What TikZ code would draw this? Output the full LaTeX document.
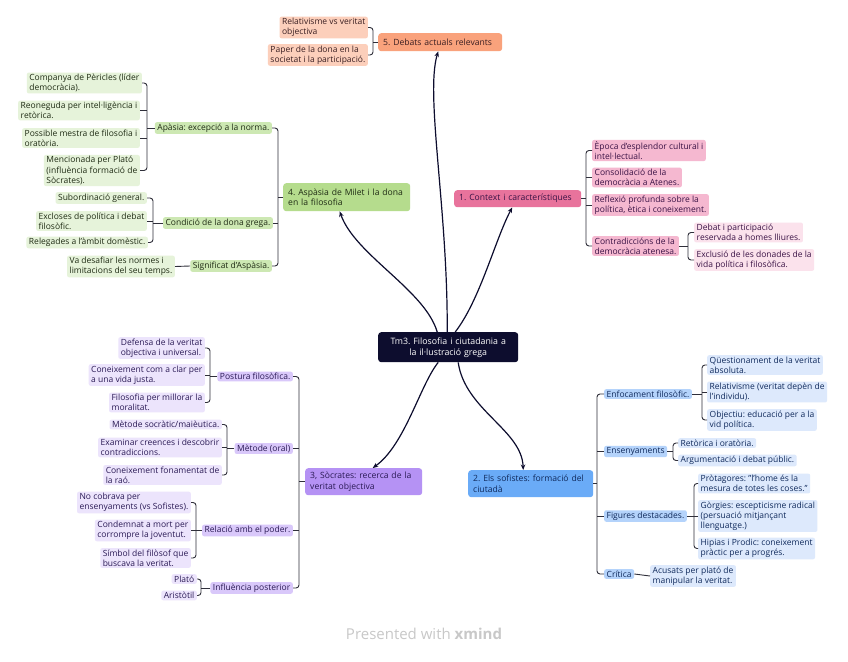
\documentclass[tikz,border=0pt]{standalone}
\usepackage{fontspec}
\setmainfont{Open Sans}
\usetikzlibrary{arrows.meta}
\frenchspacing
\definecolor{navy}{HTML}{0D0D2E}
\definecolor{brc}{HTML}{2F2F3A}
\definecolor{gM}{HTML}{B5DC8D}\definecolor{gS}{HTML}{CDE8B3}\definecolor{gL}{HTML}{E6F3DA}\definecolor{gT}{HTML}{1F2B14}
\definecolor{pM}{HTML}{E8739C}\definecolor{pS}{HTML}{F5B8D0}\definecolor{pL}{HTML}{FBE2EC}\definecolor{pT}{HTML}{3A1245}
\definecolor{oM}{HTML}{F9A27C}\definecolor{oS}{HTML}{FCCFBB}\definecolor{oT}{HTML}{3A1F22}
\definecolor{sM}{HTML}{B592F4}\definecolor{sS}{HTML}{D9C8FA}\definecolor{sL}{HTML}{ECE4FC}\definecolor{sT}{HTML}{2A1A55}
\definecolor{bM}{HTML}{6AABF7}\definecolor{bS}{HTML}{B4D3FB}\definecolor{bL}{HTML}{DDE9FC}\definecolor{bT}{HTML}{102A5C}
\definecolor{wm}{HTML}{C8C8C8}
\newcommand\bracketL[3]{\draw[br] (#2.east) -| (#1,0 |- #3.east) -- (#3.east);}
\newcommand\tickL[2]{\draw[br] (#2.east) -- (#1,0 |- #2.east);}
\newcommand\parL[2]{\draw[br] (#2.west) -- (#1,0 |- #2.west);}
\newcommand\bracketR[3]{\draw[br] (#2.west) -| (#1,0 |- #3.west) -- (#3.west);}
\newcommand\tickR[2]{\draw[br] (#2.west) -- (#1,0 |- #2.west);}
\newcommand\parR[2]{\draw[br] (#2.east) -- (#1,0 |- #2.east);}
\tikzset{
  box/.style={rounded corners=2pt, inner xsep=2.5pt, inner ysep=1.5pt, align=left, font=\fontsize{8.5}{10.1}\selectfont},
  mainbox/.style={rounded corners=3pt, inner xsep=5pt, inner ysep=2.5pt, align=left, font=\fontsize{8.6}{10.4}\selectfont, anchor=north west},
  gsub/.style={box, fill=gS, text=gT}, gleaf/.style={box, fill=gL, text=gT},
  psub/.style={box, fill=pS, text=pT}, pleaf/.style={box, fill=pL, text=pT},
  osub/.style={box, fill=oS, text=oT},
  ssub/.style={box, fill=sS, text=sT}, sleaf/.style={box, fill=sL, text=sT},
  bsub/.style={box, fill=bS, text=bT}, bleaf/.style={box, fill=bL, text=bT},
  br/.style={draw=brc, line width=0.9pt, rounded corners=3pt},
  arr/.style={draw=navy, line width=1.2pt, -{Stealth[length=5.5pt,width=4.5pt]}},
}
\begin{document}
\begin{tikzpicture}[x=1pt,y=-1pt]
\useasboundingbox (0,0) rectangle (848,661);
\fill[white] (0,0) rectangle (848,661);
% central
\node[mainbox, fill=navy, text=white, text width=130pt, align=center, minimum height=30pt, font=\fontsize{8.8}{11}\selectfont] (c) at (378,332) {Tm3. Filosofia i ciutadania a\\la il·lustració grega};
% main nodes
\node[mainbox, fill=oM, text=oT, text width=114pt, minimum height=18pt] (n5) at (378,33) {5. Debats actuals relevants};
\node[mainbox, fill=gM, text=gT, text width=117pt, minimum height=28pt] (n4) at (283,183) {4. Aspàsia de Milet i la dona\\en la filosofia};
\node[mainbox, fill=pM, text=pT, text width=117pt, minimum height=17pt] (n1) at (454,190) {1. Context i característiques};
\node[mainbox, fill=sM, text=sT, text width=107pt, minimum height=27pt] (n3) at (305,468) {3, Sòcrates: recerca de la\\veritat objectiva};
\node[mainbox, fill=bM, text=bT, text width=115pt, minimum height=27pt] (n2) at (468,470) {2. Els sofistes: formació del\\ciutadà};
% curved connectors
\draw[arr] ([xshift=-1pt]c.north) .. controls (448,210) and (425,95) .. ([xshift=-2pt]n5.south);
\draw[arr] ([xshift=-11pt]c.north) .. controls (425,290) and (355,255) .. ([xshift=-7pt]n4.south);
\draw[arr] ([xshift=7pt]c.north) .. controls (480,300) and (495,240) .. ([xshift=-5.5pt]n1.south);
\draw[arr] ([xshift=-10pt]c.south) .. controls (420,385) and (405,445) .. ([xshift=9pt]n3.north);
\draw[arr] ([xshift=10pt]c.south) .. controls (465,410) and (522,430) .. ([xshift=-7.5pt]n2.north);
% ===== orange
\node[osub, anchor=east] (o1) at (368,27.5) {Relativisme vs veritat\\objectiva};
\node[osub, anchor=east] (o2) at (368,55) {Paper de la dona en la\\societat i la participació.};
\bracketL{373}{o1}{o2}\parL{373}{n5}
% ===== green
\node[gsub, anchor=east] (gA) at (272,128) {Apàsia: excepció a la norma.};
\node[gsub, anchor=east] (gB) at (273,223) {Condició de la dona grega.};
\node[gsub, anchor=east] (gC) at (272,266) {Significat d'Aspàsia.};
\bracketL{278}{gA}{gC}\tickL{278}{gB}\parL{278}{n4}
\node[gleaf, anchor=east] (g1) at (142,83) {Companya de Pèricles (líder\\democràcia).};
\node[gleaf, anchor=east] (g2) at (140,110.5) {Reoneguda per intel·ligència i\\retòrica.};
\node[gleaf, anchor=east] (g3) at (140,138) {Possible mestra de filosofia i\\oratòria.};
\node[gleaf, anchor=east] (g4) at (140,170.5) {Mencionada per Plató\\(influència formació de\\Sòcrates).};
\bracketL{147}{g1}{g4}\tickL{147}{g2}\tickL{147}{g3}\parL{147}{gA}
\node[gleaf, anchor=east] (g5) at (147,198) {Subordinació general.};
\node[gleaf, anchor=east] (g6) at (147,221) {Excloses de política i debat\\filosòfic.};
\node[gleaf, anchor=east] (g7) at (148,242.5) {Relegades a l'àmbit domèstic.};
\bracketL{153}{g5}{g7}\tickL{153}{g6}\parL{153}{gB}
\node[gleaf, anchor=east] (g8) at (175,266.5) {Va desafiar les normes i\\limitacions del seu temps.};
\draw[br] (gC.west) -- (g8.east);
% ===== pink
\node[psub, anchor=west] (p1) at (592,150.5) {Època d'esplendor cultural i\\intel·lectual.};
\node[psub, anchor=west] (p2) at (592,177.5) {Consolidació de la\\democràcia a Atenes.};
\node[psub, anchor=west] (p3) at (592,205) {Reflexió profunda sobre la\\política, ètica i coneixement.};
\node[psub, anchor=west] (p4) at (592,246) {Contradiccións de la\\democràcia atenesa.};
\bracketR{586}{p1}{p4}\tickR{586}{p2}\tickR{586}{p3}\parR{586}{n1}
\node[pleaf, anchor=west] (p5) at (694,232.5) {Debat i participació\\reservada a homes lliures.};
\node[pleaf, anchor=west] (p6) at (694,260) {Exclusió de les donades de la\\vida política i filosòfica.};
\bracketR{688}{p5}{p6}\parR{688}{p4}
% ===== blue
\node[bsub, anchor=west] (b1) at (604,394) {Enfocament filosòfic.};
\node[bsub, anchor=west] (b2) at (604,451.5) {Ensenyaments};
\node[bsub, anchor=west] (b3) at (604,516) {Figures destacades.};
\node[bsub, anchor=west] (b4) at (604,574) {Crítica};
\bracketR{597}{b1}{b4}\tickR{597}{b2}\tickR{597}{b3}\parR{597}{n2}
\node[bleaf, anchor=west] (b11) at (707,365) {Qüestionament de la veritat\\absoluta.};
\node[bleaf, anchor=west] (b12) at (707,392) {Relativisme (veritat depèn de\\l'individu).};
\node[bleaf, anchor=west] (b13) at (707,420) {Objectiu: educació per a la\\vid política.};
\bracketR{702}{b11}{b13}\tickR{702}{b12}\parR{702}{b1}
\node[bleaf, anchor=west] (b21) at (678,443) {Retòrica i oratòria.};
\node[bleaf, anchor=west] (b22) at (678,460.5) {Argumentació i debat públic.};
\bracketR{673}{b21}{b22}\parR{673}{b2}
\node[bleaf, anchor=west] (b31) at (698,483.5) {Pròtagores: "l'home és la\\mesura de totes les coses."};
\node[bleaf, anchor=west] (b32) at (698,516) {Gòrgies: escepticisme radical\\(persuació mitjançant\\llenguatge.)};
\node[bleaf, anchor=west] (b33) at (698,548.5) {Hipias i Prodic: coneixement\\pràctic per a progrés.};
\bracketR{694}{b31}{b33}\tickR{694}{b32}\parR{694}{b3}
\node[bleaf, anchor=west] (b41) at (650,576) {Acusats per plató de\\manipular la veritat.};
\draw[br] (b4.east) -- (b41.west);
% ===== purple
\node[ssub, anchor=east] (s1) at (293,376.5) {Postura filosòfica.};
\node[ssub, anchor=east] (s2) at (293,448.5) {Mètode (oral)};
\node[ssub, anchor=east] (s3) at (293,530.5) {Relació amb el poder.};
\node[ssub, anchor=east] (s4) at (293,588) {Influència posterior};
\bracketL{299}{s1}{s4}\tickL{299}{s2}\tickL{299}{s3}\parL{299}{n3}
\node[sleaf, anchor=east] (s11) at (205,348) {Defensa de la veritat\\objectiva i universal.};
\node[sleaf, anchor=east] (s12) at (205,375) {Coneixement com a clar per\\a una vida justa.};
\node[sleaf, anchor=east] (s13) at (205,402.5) {Filosofia per millorar la\\moralitat.};
\bracketL{210}{s11}{s13}\tickL{210}{s12}\parL{210}{s1}
\node[sleaf, anchor=east] (s21) at (222,424.5) {Mètode socràtic/maièutica.};
\node[sleaf, anchor=east] (s22) at (222,447.5) {Examinar creences i descobrir\\contradiccions.};
\node[sleaf, anchor=east] (s23) at (222,475) {Coneixement fonamentat de\\la raó.};
\bracketL{227}{s21}{s23}\tickL{227}{s22}\parL{227}{s2}
\node[sleaf, anchor=east] (s31) at (191,502.5) {No cobrava per\\ensenyaments (vs Sofistes).};
\node[sleaf, anchor=east] (s32) at (191,530.5) {Condemnat a mort per\\corrompre la joventut.};
\node[sleaf, anchor=east] (s33) at (191,558) {Símbol del filòsof que\\buscava la veritat.};
\bracketL{196}{s31}{s33}\tickL{196}{s32}\parL{196}{s3}
\node[sleaf, anchor=east] (s41) at (197,579) {Plató};
\node[sleaf, anchor=east] (s42) at (197,595.5) {Aristòtil};
\bracketL{201}{s41}{s42}\parL{201}{s4}
% watermark
\node[text=wm, font=\fontsize{15}{18}\selectfont, inner sep=0pt] (wmk) at (424,634) {Presented with \textbf{xmind}};
\end{tikzpicture}
\end{document}
